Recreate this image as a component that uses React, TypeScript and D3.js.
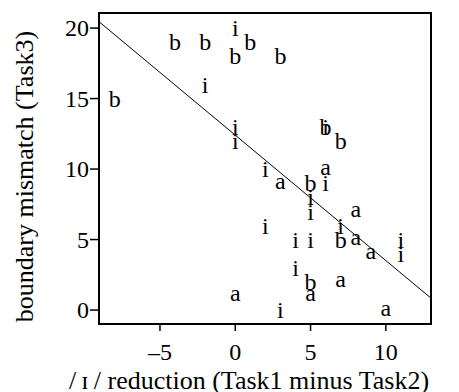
import React from "react";
import * as d3 from "d3";

const bX = [-8, -4, -2, 0, 1, 3, 6, 7, 5, 7, 5];
const bY = [15, 19, 19, 18, 19, 18, 13, 12, 9, 5, 2];
const iX = [0, -2, 0, 0, 6, 2, 6, 5, 5, 7, 2, 4, 5, 11, 11, 4, 3];
const iY = [20, 16, 13, 12, 13, 10, 9, 8, 7, 6, 6, 5, 5, 5, 4, 3, 0];
const aX = [6, 3, 8, 8, 9, 7, 0, 5, 10];
const aY = [10, 9, 7, 5, 4, 2, 1, 1, 0];
const xTicks = [-5, 0, 5, 10];
const yTicks = [0, 5, 10, 15, 20];
const xLabel = "/\u2009ɪ\u2009/ reduction (Task1 minus Task2)";
const yLabel = "boundary mismatch (Task3)";

const W = 459;
const H = 392;
const M = { left: 99, right: 28, top: 13, bottom: 68 };
const FONT = "'Liberation Serif', 'Times New Roman', serif";

export default function App() {
  const x = d3.scaleLinear().domain([-9.05, 13]).range([M.left, W - M.right]);
  const y = d3.scaleLinear().domain([-0.99, 21.07]).range([H - M.bottom, M.top]);

  const pts: { x: number; y: number; c: string }[] = [];
  bX.forEach((v, k) => pts.push({ x: v, y: bY[k], c: "b" }));
  iX.forEach((v, k) => pts.push({ x: v, y: iY[k], c: "i" }));
  aX.forEach((v, k) => pts.push({ x: v, y: aY[k], c: "a" }));

  const mx = d3.mean(pts, (p) => p.x)!;
  const my = d3.mean(pts, (p) => p.y)!;
  const sxy = d3.sum(pts, (p) => (p.x - mx) * (p.y - my));
  const sxx = d3.sum(pts, (p) => (p.x - mx) * (p.x - mx));
  const slope = sxy / sxx;
  const icpt = my - slope * mx;
  const [x0, x1] = x.domain();
  const line = d3.line<number>()
    .x((d) => x(d))
    .y((d) => y(icpt + slope * d));

  const dyFor = (c: string) => (c === "a" ? "0.23em" : "0.34em");

  return (
    <svg width={W} height={H} style={{ position: "absolute", left: 0, top: 0, background: "#fff" }}>
      <defs>
        <clipPath id="plotclip">
          <rect x={M.left} y={M.top} width={W - M.left - M.right} height={H - M.top - M.bottom} />
        </clipPath>
      </defs>
      <rect x={0} y={0} width={W} height={H} fill="#fff" />
      <path d={line([x0, x1]) || ""} stroke="#000" strokeWidth={1} fill="none" clipPath="url(#plotclip)" />
      {pts.map((p, k) => (
        <text
          key={k}
          x={x(p.x)}
          y={y(p.y)}
          dy={dyFor(p.c)}
          textAnchor="middle"
          fontFamily={FONT}
          fontSize={24}
          fill="#000"
        >
          {p.c}
        </text>
      ))}
      <rect
        x={M.left}
        y={M.top}
        width={W - M.left - M.right}
        height={H - M.top - M.bottom}
        fill="none"
        stroke="#000"
        strokeWidth={2}
      />
      {xTicks.map((t) => (
        <g key={"xt" + t}>
          <line x1={x(t)} x2={x(t)} y1={H - M.bottom} y2={H - M.bottom + 7} stroke="#000" strokeWidth={1.5} />
          <text
            x={x(t)}
            y={H - M.bottom + 28}
            dy="0.35em"
            textAnchor="middle"
            fontFamily={FONT}
            fontSize={24}
          >
            {t < 0 ? "\u2013" + Math.abs(t) : t}
          </text>
        </g>
      ))}
      {yTicks.map((t) => (
        <g key={"yt" + t}>
          <line x1={M.left - 9} x2={M.left} y1={y(t)} y2={y(t)} stroke="#000" strokeWidth={1.5} />
          <text
            x={M.left - 10}
            y={y(t)}
            dy="0.35em"
            textAnchor="end"
            fontFamily={FONT}
            fontSize={24}
          >
            {t}
          </text>
        </g>
      ))}
      <text x={249} y={389} textAnchor="middle" fontFamily={FONT} fontSize={26}>
        {xLabel}
      </text>
      <text
        transform={`translate(33, ${176.5}) rotate(-90)`}
        textAnchor="middle"
        fontFamily={FONT}
        fontSize={26}
      >
        {yLabel}
      </text>
    </svg>
  );
}
